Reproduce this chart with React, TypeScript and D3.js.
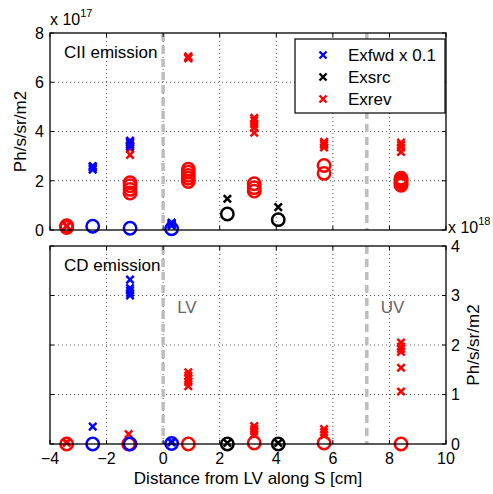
import React from 'react';
import * as d3 from 'd3';

const W = 493;
const H = 494;
const FONT = '"Liberation Sans", Arial, Helvetica, sans-serif';

const xTicks = [-4, -2, 0, 2, 4, 6, 8, 10];
const ciiTicks = [0, 2, 4, 6, 8];
const cdTicks = [0, 1, 2, 3, 4];
const vLines = [
  { x: 0, label: 'LV' },
  { x: 7.2, label: 'UV' },
];

// [position along S (cm), values]
type Group = [number, number[]];

// CII emission, units of 1e17
const ciiFwdCross: Group[] = [[-2.49, [2.45, 2.52, 2.58, 2.6]], [-1.17, [3.38, 3.45, 3.55, 3.62]], [0.3, [0.18, 0.22, 0.26, 0.3]]];
const ciiFwdCircle: Group[] = [[-2.49, [0.15]], [-1.17, [0.07]], [0.3, [0.05]]];
const ciiSrcCross: Group[] = [[2.27, [1.27]], [4.07, [0.93]]];
const ciiSrcCircle: Group[] = [[2.27, [0.65]], [4.07, [0.42]]];
const ciiRevCross: Group[] = [
  [-3.41, [0.15, 0.18]],
  [-1.17, [3.05, 3.3, 3.45, 3.55, 3.62]],
  [0.89, [6.97, 7.0, 7.05]],
  [3.22, [3.95, 4.15, 4.3, 4.45, 4.55]],
  [5.69, [3.35, 3.45, 3.52, 3.58]],
  [8.41, [3.17, 3.35, 3.45, 3.55]],
];
const ciiRevCircle: Group[] = [
  [-3.41, [0.1, 0.14, 0.17]],
  [-1.17, [1.5, 1.65, 1.8, 1.92]],
  [0.89, [1.97, 2.1, 2.22, 2.35, 2.47]],
  [3.22, [1.58, 1.72, 1.88]],
  [5.69, [2.3, 2.62]],
  [8.41, [1.82, 1.88, 1.94, 2.0, 2.06, 2.1]],
];

// CD emission, units of 1e18
const cdFwdCross: Group[] = [[-2.49, [0.35]], [-1.17, [3.0, 3.05, 3.1, 3.15, 3.32]], [0.3, [0.03, 0.05]]];
const cdFwdCircle: Group[] = [[-2.49, [0]], [-1.17, [0]], [0.3, [0.01]]];
const cdSrcCross: Group[] = [[2.27, [0.02]], [4.07, [0.02]]];
const cdSrcCircle: Group[] = [[2.27, [0]], [4.07, [0]]];
const cdRevCross: Group[] = [
  [-3.41, [0.02, 0.04]],
  [-1.22, [0.2]],
  [0.89, [1.17, 1.25, 1.32, 1.38, 1.45]],
  [3.22, [0.2, 0.26, 0.3, 0.36]],
  [5.69, [0.18, 0.24, 0.3]],
  [8.41, [1.06, 1.54, 1.86, 1.92, 1.97, 2.05]],
];
const cdRevCircle: Group[] = [[-3.41, [0]], [-1.22, [0]], [0.89, [0]], [3.22, [0.02]], [5.69, [0.02]], [8.41, [0]]];

const legendItems = [
  { label: 'Exfwd x 0.1', color: '#0000ff' },
  { label: 'Exsrc', color: '#000000' },
  { label: 'Exrev', color: '#ff0000' },
];

const RED = '#ff0000';
const BLUE = '#0000ff';
const BLACK = '#000000';

const margin = { left: 50, right: 47 };
const x = d3.scaleLinear().domain([-4, 10]).range([margin.left, W - margin.right]);

const crossPath = (s: number) => `M${-s},${-s}L${s},${s}M${-s},${s}L${s},${-s}`;

const Marks = ({ groups, y, kind, color }: { groups: Group[]; y: d3.ScaleLinear<number, number>; kind: 'x' | 'o'; color: string }) => (
  <g>
    {groups.flatMap(([pos, vals], gi) =>
      vals.map((v, i) =>
        kind === 'x' ? (
          <path key={`${gi}-${i}`} d={crossPath(3.7)} transform={`translate(${x(pos)},${y(v)})`} stroke={color} strokeWidth={2.5} fill="none" />
        ) : (
          <circle key={`${gi}-${i}`} cx={x(pos)} cy={y(v)} r={6.2} stroke={color} strokeWidth={2.5} fill="none" />
        )
      )
    )}
  </g>
);

type PanelProps = {
  top: number;
  bottom: number;
  ticks: number[];
  title: string;
  side: 'left' | 'right';
  exponent: string;
  showX: boolean;
  showVLabels: boolean;
  sets: { groups: Group[]; kind: 'x' | 'o'; color: string }[];
};

const Panel = ({ top, bottom, ticks, title, side, exponent, showX, showVLabels, sets }: PanelProps) => {
  const y = d3.scaleLinear().domain(d3.extent(ticks) as [number, number]).range([bottom, top]);
  const [x0, x1] = x.range();
  const tl = 4;
  return (
    <g>
      {/* grid */}
      <g stroke="#555" strokeWidth={1} strokeDasharray="1,3">
        {xTicks.slice(1, -1).map((t) => (
          <line key={`gx${t}`} x1={x(t)} x2={x(t)} y1={top} y2={bottom} />
        ))}
        {ticks.slice(1, -1).map((t) => (
          <line key={`gy${t}`} x1={x0} x2={x1} y1={y(t)} y2={y(t)} />
        ))}
      </g>
      {/* boundary lines */}
      {vLines.map((v) => (
        <line key={v.label} x1={x(v.x)} x2={x(v.x)} y1={top} y2={bottom} stroke="#bdbdbd" strokeWidth={3.5} strokeDasharray="8,5" />
      ))}
      {showVLabels &&
        vLines.map((v) => (
          <text key={`l${v.label}`} x={x(v.x) + 14} y={y(2.65)} fontSize={17} fill="#666" fontFamily={FONT}>
            {v.label}
          </text>
        ))}
      {sets.map((s, i) => (
        <Marks key={i} groups={s.groups} y={y} kind={s.kind} color={s.color} />
      ))}
      {/* box + ticks */}
      <rect x={x0} y={top} width={x1 - x0} height={bottom - top} fill="none" stroke="#000" strokeWidth={1.3} />
      <g stroke="#000" strokeWidth={1}>
        {xTicks.map((t) => (
          <g key={`tx${t}`}>
            <line x1={x(t)} x2={x(t)} y1={bottom} y2={bottom - tl} />
            <line x1={x(t)} x2={x(t)} y1={top} y2={top + tl} />
          </g>
        ))}
        {ticks.map((t) => (
          <g key={`ty${t}`}>
            <line x1={x0} x2={x0 + tl} y1={y(t)} y2={y(t)} />
            <line x1={x1} x2={x1 - tl} y1={y(t)} y2={y(t)} />
          </g>
        ))}
      </g>
      <g fontFamily={FONT} fontSize={17} fill="#000">
        {ticks.map((t) =>
          side === 'left' ? (
            <text key={`yl${t}`} x={x0 - 6} y={y(t)} dy="0.36em" textAnchor="end" fontSize={16}>
              {t}
            </text>
          ) : (
            <text key={`yl${t}`} x={x1 + 5} y={y(t)} dy="0.36em" textAnchor="start" fontSize={16}>
              {t}
            </text>
          )
        )}
        {showX &&
          xTicks.map((t) => (
            <text key={`xl${t}`} x={x(t)} y={bottom + 20} textAnchor="middle" fontSize={16}>
              {t < 0 ? `\u2212${Math.abs(t)}` : t}
            </text>
          ))}
        <text x={x0 + 14} y={top + 25}>
          {title}
        </text>
        {side === 'left' ? (
          <text transform={`translate(${x0 - 24},${(top + bottom) / 2}) rotate(-90)`} textAnchor="middle">
            Ph/s/sr/m2
          </text>
        ) : (
          <text transform={`translate(${x1 + 33},${(top + bottom) / 2}) rotate(-90)`} textAnchor="middle">
            Ph/s/sr/m2
          </text>
        )}
        {side === 'left' ? (
          <text x={x0} y={top - 8} fontSize={16}>
            x 10<tspan fontSize={11} dy={-8}>{exponent}</tspan>
          </text>
        ) : (
          <text x={x1 + 2} y={top - 13} fontSize={16}>
            x 10<tspan fontSize={11} dy={-8}>{exponent}</tspan>
          </text>
        )}
      </g>
    </g>
  );
};

const Legend = () => {
  const lx = 295;
  const ly = 39;
  const lw = 150;
  const lh = 74;
  return (
    <g>
      <rect x={lx} y={ly} width={lw} height={lh} fill="#fff" stroke="#000" strokeWidth={1.2} />
      {legendItems.map((d, i) => (
        <g key={d.label} transform={`translate(${lx}, ${ly + 16 + i * 22})`}>
          <path d={crossPath(3.5)} transform="translate(28,0)" stroke={d.color} strokeWidth={2.4} fill="none" />
          <text x={53} y={0} dy="0.36em" fontSize={17} fontFamily={FONT}>
            {d.label}
          </text>
        </g>
      ))}
    </g>
  );
};

export default function App() {
  return (
    <svg width={W} height={H} style={{ position: 'absolute', left: 0, top: 0, background: '#fff' }}>
      <rect width={W} height={H} fill="#fff" />
      <Panel
        top={33}
        bottom={230}
        ticks={ciiTicks}
        title="CII emission"
        side="left"
        exponent="17"
        showX={false}
        showVLabels={false}
        sets={[
          { groups: ciiRevCircle, kind: 'o', color: RED },
          { groups: ciiRevCross, kind: 'x', color: RED },
          { groups: ciiSrcCircle, kind: 'o', color: BLACK },
          { groups: ciiSrcCross, kind: 'x', color: BLACK },
          { groups: ciiFwdCircle, kind: 'o', color: BLUE },
          { groups: ciiFwdCross, kind: 'x', color: BLUE },
        ]}
      />
      <Legend />
      <Panel
        top={246}
        bottom={444}
        ticks={cdTicks}
        title="CD emission"
        side="right"
        exponent="18"
        showX={true}
        showVLabels={true}
        sets={[
          { groups: cdRevCircle, kind: 'o', color: RED },
          { groups: cdRevCross, kind: 'x', color: RED },
          { groups: cdSrcCircle, kind: 'o', color: BLACK },
          { groups: cdSrcCross, kind: 'x', color: BLACK },
          { groups: cdFwdCircle, kind: 'o', color: BLUE },
          { groups: cdFwdCross, kind: 'x', color: BLUE },
        ]}
      />
      <text x={x(3)} y={484} textAnchor="middle" fontSize={17} fontFamily={FONT}>
        Distance from LV along S [cm]
      </text>
    </svg>
  );
}
